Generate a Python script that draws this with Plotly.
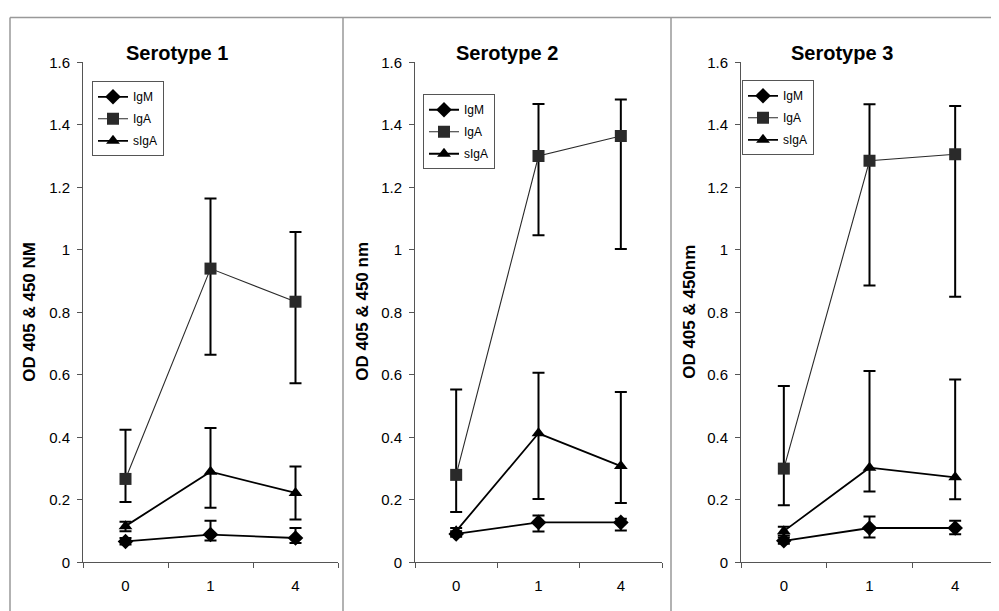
import plotly.graph_objects as go

W, H = 999, 611

x_labels = ["0", "1", "4"]
titles = ["Serotype 1", "Serotype 2", "Serotype 3"]
ytitles = ["OD 405 & 450 NM", "OD 405 & 450 nm", "OD 405 & 450nm"]
series_names = ["IgM", "IgA", "sIgA"]

# Serotype 1
s1_igm = [0.067, 0.089, 0.078]
s1_igm_hi = [0.078, 0.133, 0.110]
s1_igm_lo = [0.057, 0.070, 0.062]
s1_iga = [0.267, 0.940, 0.834]
s1_iga_hi = [0.424, 1.164, 1.057]
s1_iga_lo = [0.193, 0.664, 0.573]
s1_siga = [0.116, 0.290, 0.222]
s1_siga_hi = [0.130, 0.430, 0.307]
s1_siga_lo = [0.100, 0.175, 0.137]

# Serotype 2
s2_igm = [0.091, 0.128, 0.128]
s2_igm_hi = [0.100, 0.150, 0.140]
s2_igm_lo = [0.082, 0.099, 0.102]
s2_iga = [0.280, 1.300, 1.364]
s2_iga_hi = [0.553, 1.467, 1.481]
s2_iga_lo = [0.161, 1.047, 1.003]
s2_siga = [0.100, 0.413, 0.308]
s2_siga_hi = [0.110, 0.607, 0.545]
s2_siga_lo = [0.090, 0.203, 0.190]

# Serotype 3
s3_igm = [0.069, 0.110, 0.110]
s3_igm_hi = [0.080, 0.147, 0.133]
s3_igm_lo = [0.060, 0.080, 0.090]
s3_iga = [0.300, 1.285, 1.306]
s3_iga_hi = [0.564, 1.466, 1.460]
s3_iga_lo = [0.183, 0.886, 0.850]
s3_siga = [0.100, 0.303, 0.272]
s3_siga_hi = [0.114, 0.612, 0.585]
s3_siga_lo = [0.086, 0.227, 0.202]

panels = [
    [(s1_igm, s1_igm_hi, s1_igm_lo), (s1_iga, s1_iga_hi, s1_iga_lo), (s1_siga, s1_siga_hi, s1_siga_lo)],
    [(s2_igm, s2_igm_hi, s2_igm_lo), (s2_iga, s2_iga_hi, s2_iga_lo), (s2_siga, s2_siga_hi, s2_siga_lo)],
    [(s3_igm, s3_igm_hi, s3_igm_lo), (s3_iga, s3_iga_hi, s3_iga_lo), (s3_siga, s3_siga_hi, s3_siga_lo)],
]

FONT = "Arial, Liberation Sans, Helvetica, sans-serif"

# screen-pixel targets -> paper fractions (compensating page offset)
OX, OY, SY = 8.0, 15.6, 0.974


def sx(t):
    return (t - OX) / W


def sy(t):
    return 1 - ((t - OY) / SY) / H


x_dom_px = [(83, 338), (415, 662), (741, 998)]
y_top_px, y_bot_px = 61, 562
legend_px = [(92, 80), (423, 93), (742, 79)]
title_px = [(177, 52), (507, 52), (842, 52)]
ytitle_px = [(30, 311), (363, 311), (690, 311)]
frame_x_px = [10, 343, 671]

styles = [
    dict(symbol="diamond", size=12, color="#000000", lw=1.8),
    dict(symbol="square", size=12, color="#2a2a2a", lw=1.1),
    dict(symbol="triangle-up", size=12, color="#000000", lw=1.8),
]

fig = go.Figure()

for p in range(3):
    xa = "x" if p == 0 else f"x{p+1}"
    ya = "y" if p == 0 else f"y{p+1}"
    lg = "legend" if p == 0 else f"legend{p+1}"
    for s in range(3):
        v, hi, lo = panels[p][s]
        st = styles[s]
        fig.add_trace(go.Scatter(
            x=x_labels, y=v, name=series_names[s],
            mode="lines+markers",
            line=dict(color=st["color"], width=st["lw"]),
            marker=dict(symbol=st["symbol"], size=st["size"], color=st["color"],
                        line=dict(width=0)),
            error_y=dict(type="data", symmetric=False,
                         array=[h - a for h, a in zip(hi, v)],
                         arrayminus=[a - l for a, l in zip(v, lo)],
                         color="#000000", thickness=2, width=6),
            xaxis=xa, yaxis=ya, legend=lg, showlegend=True,
            legendgroup=f"p{p}s{s}",
        ))

layout = dict(
    width=W, height=H,
    margin=dict(l=0, r=0, t=0, b=0),
    paper_bgcolor="white", plot_bgcolor="white",
    font=dict(family=FONT, size=15, color="#000"),
)

for p in range(3):
    xk = "xaxis" if p == 0 else f"xaxis{p+1}"
    yk = "yaxis" if p == 0 else f"yaxis{p+1}"
    ya = "y" if p == 0 else f"y{p+1}"
    xa = "x" if p == 0 else f"x{p+1}"
    x0, x1 = x_dom_px[p]
    layout[xk] = dict(
        domain=[sx(x0), sx(x1)], anchor=ya,
        type="category", range=[-0.5, 2.5],
        tickson="boundaries", ticks="outside", ticklen=5, tickcolor="#555",
        showline=True, linecolor="#555", linewidth=1,
        showgrid=False, zeroline=False, ticklabelstandoff=10,
        tickfont=dict(family=FONT, size=15, color="#000"),
    )
    layout[yk] = dict(
        domain=[sy(y_bot_px), sy(y_top_px)], anchor=xa,
        range=[0, 1.6], tickvals=[0, 0.2, 0.4, 0.6, 0.8, 1, 1.2, 1.4, 1.6],
        ticktext=["0", "0.2", "0.4", "0.6", "0.8", "1", "1.2", "1.4", "1.6"],
        ticks="outside", ticklen=5, tickcolor="#555",
        showline=True, linecolor="#555", linewidth=1,
        showgrid=False, zeroline=False, ticklabelstandoff=4,
        tickfont=dict(family=FONT, size=15, color="#000"),
    )
    lk = "legend" if p == 0 else f"legend{p+1}"
    lx, ly = legend_px[p]
    layout[lk] = dict(
        x=sx(lx), y=sy(ly), xanchor="left", yanchor="top",
        xref="paper", yref="paper",
        bgcolor="white", bordercolor="#555", borderwidth=1,
        font=dict(family=FONT, size=12, color="#000"),
        itemsizing="trace", tracegroupgap=3, traceorder="grouped",
        entrywidth=42, entrywidthmode="pixels",
    )

annotations = []
for p in range(3):
    tx, ty = title_px[p]
    annotations.append(dict(
        text=f"<b>{titles[p]}</b>", x=sx(tx), y=sy(ty),
        xref="paper", yref="paper", xanchor="center", yanchor="middle",
        showarrow=False, font=dict(family=FONT, size=20, color="#000"),
    ))
    ax, ay = ytitle_px[p]
    annotations.append(dict(
        text=f"<b>{ytitles[p]}</b>", x=sx(ax), y=sy(ay),
        xref="paper", yref="paper", xanchor="center", yanchor="middle",
        textangle=-90, showarrow=False,
        font=dict(family=FONT, size=17, color="#000"),
    ))
layout["annotations"] = annotations

shapes = []
for fx in frame_x_px:
    shapes.append(dict(type="line", xref="paper", yref="paper",
                       x0=sx(fx), x1=sx(fx), y0=0, y1=0.999,
                       line=dict(color="#999", width=1.5)))
shapes.append(dict(type="line", xref="paper", yref="paper",
                   x0=sx(frame_x_px[0]), x1=1, y0=0.999, y1=0.999,
                   line=dict(color="#999", width=1.5)))
layout["shapes"] = shapes

fig.update_layout(**layout)
fig.write_html("out.html")
